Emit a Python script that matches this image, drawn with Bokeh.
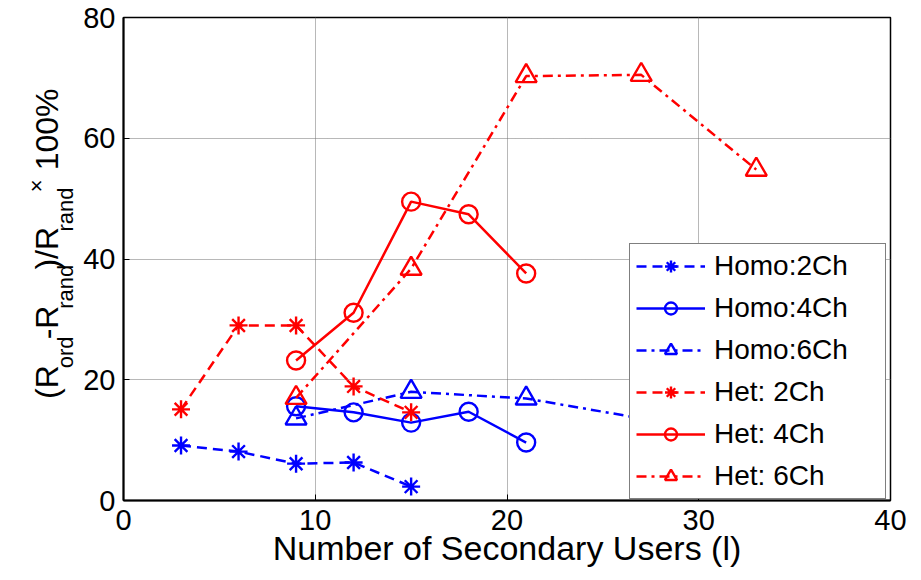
import math
from bokeh.plotting import figure
from bokeh.layouts import row
from bokeh.models import Range1d, FixedTicker, Legend, LegendItem
from bokeh.core.properties import value
from bokeh.embed import file_html
from bokeh.resources import INLINE

# ---- data ----
x_homo2 = [3, 6, 9, 12, 15]
y_homo2 = [9.1, 8.1, 6.1, 6.3, 2.3]
x_homo4 = [9, 12, 15, 18, 21]
y_homo4 = [15.6, 14.6, 12.9, 14.7, 9.6]
x_homo6 = [9, 15, 21, 27, 33]
y_homo6 = [13.6, 18.0, 16.9, 13.6, 11.5]
x_het2 = [3, 6, 9, 12, 15]
y_het2 = [15.1, 29.0, 29.0, 18.9, 14.6]
x_het4 = [9, 12, 15, 18, 21]
y_het4 = [23.2, 31.1, 49.5, 47.4, 37.6]
x_het6 = [9, 15, 21, 27, 33]
y_het6 = [17.0, 38.4, 70.3, 70.5, 54.8]

series_names = ["Homo:2Ch", "Homo:4Ch", "Homo:6Ch", "Het: 2Ch", "Het: 4Ch", "Het: 6Ch"]
x_ticks = [0, 10, 20, 30, 40]
y_ticks = [0, 20, 40, 60, 80]
x_label = "Number of Secondary Users (l)"
y_label_parts = ["(R", "ord", "-R", "rand", ")/R", "rand", "×", "\u00a0100%"]
y_label_roles = ["main", "sub", "main", "sub", "main", "sub", "sup", "main"]

FONT = "Liberation Sans"
BLUE = "#0000ff"
RED = "#ff0000"

# geometry (pixels)
W, H = 921, 580
LW = 80                      # width of the y-label strip
L, R, T, B = 122, 890, 17, 500   # frame edges in page pixels

p = figure(width=W - LW, height=H, output_backend="svg", toolbar_location=None,
           x_range=Range1d(0, 40), y_range=Range1d(0, 80),
           min_border_left=L - LW, min_border_right=W - R, min_border_top=T,
           min_border_bottom=H - B)
p.background_fill_color = "white"
p.border_fill_color = "white"
p.outline_line_color = "black"
p.outline_line_width = 1.5

for ax in (p.xaxis[0], p.yaxis[0]):
    ax.axis_line_color = "black"
    ax.axis_line_width = 2
    ax.major_tick_in = 6
    ax.major_tick_out = 0
    ax.minor_tick_line_color = None
    ax.major_tick_line_color = "black"
    ax.major_label_text_font = FONT
    ax.major_label_text_font_size = "29px"
    ax.major_label_text_color = "black"

p.xaxis.ticker = FixedTicker(ticks=x_ticks)
p.yaxis.ticker = FixedTicker(ticks=y_ticks)
p.xaxis.major_label_standoff = 9
p.yaxis.major_label_standoff = 8
p.xaxis.axis_label = x_label
p.xaxis.axis_label_text_font = FONT
p.xaxis.axis_label_text_font_size = "34px"
p.xaxis.axis_label_text_font_style = "normal"
p.xaxis.axis_label_text_color = "black"
p.xaxis.axis_label_standoff = -4

for g in (p.xgrid[0], p.ygrid[0]):
    g.grid_line_color = "#707070"
    g.grid_line_width = 1
    g.grid_line_dash = "1 1"
p.xgrid.ticker = FixedTicker(ticks=x_ticks)
p.ygrid.ticker = FixedTicker(ticks=y_ticks)

specs = [
    (x_homo2, y_homo2, BLUE, "10 6", "asterisk", 18),
    (x_homo4, y_homo4, BLUE, "solid", "circle", 18),
    (x_homo6, y_homo6, BLUE, "10 5 3 5", "triangle", 21),
    (x_het2, y_het2, RED, "10 6", "asterisk", 18),
    (x_het4, y_het4, RED, "solid", "circle", 18),
    (x_het6, y_het6, RED, "10 5 3 5", "triangle", 21),
]
items = []
for (xs, ys, col, dash, mk, sz), name in zip(specs, series_names):
    lr = p.line(xs, ys, line_color=col, line_width=2.5, line_dash=dash)
    sr = p.scatter(xs, ys, marker=mk, size=sz, line_color=col, line_width=2.4,
                   fill_alpha=0)
    items.append(LegendItem(label=name, renderers=[lr, sr]))

legend = Legend(items=items, location=(628 - L, 1),
                label_text_font=FONT, label_text_font_size="28px",
                label_text_color="black",
                glyph_width=69, glyph_height=30, label_height=30,
                label_standoff=9, label_width=165, spacing=10, padding=6,
                margin=0, border_line_color="black", border_line_width=1.5,
                background_fill_color="white", background_fill_alpha=1.0)
p.add_layout(legend, "center")

# ---- y-label strip (pixel coordinates, y measured upward) ----
q = figure(width=LW, height=H, output_backend="svg", toolbar_location=None,
           x_range=Range1d(0, LW), y_range=Range1d(0, H),
           x_axis_type=None, y_axis_type=None,
           min_border=0, min_border_left=0, min_border_right=0,
           min_border_top=0, min_border_bottom=0)
q.outline_line_color = None
q.grid.visible = False
q.background_fill_color = "white"
q.border_fill_color = "white"

ARIAL = {"(": 333, ")": 333, "R": 722, "o": 556, "r": 333, "d": 556, "-": 333,
         "a": 556, "n": 556, "/": 278, "×": 584, " ": 278, "\u00a0": 278,
         "1": 556, "0": 556, "%": 889}
role_style = {"main": (32, 46), "sub": (22, 65), "sup": (22, 36)}
cur = 458.0
gap = 3.0
for txt, role in zip(y_label_parts, y_label_roles):
    fs, bx = role_style[role]
    q.text(x=[bx], y=[H - cur], text=[txt], angle=math.pi / 2,
           text_align="left", text_baseline="alphabetic",
           text_font=value(FONT), text_font_size=value(f"{fs}px"),
           text_color="black")
    adv = sum(ARIAL.get(c, 556) for c in txt) / 1000.0 * fs
    cur -= adv + gap

layout = row(q, p, spacing=0)
open("out.html", "w").write(file_html(layout, INLINE))
